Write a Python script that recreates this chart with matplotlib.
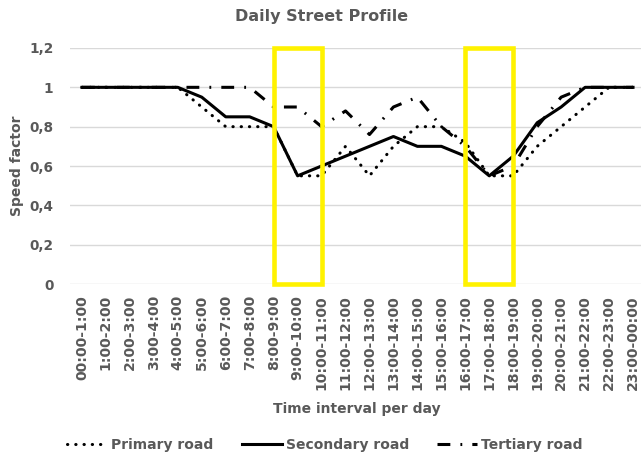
import matplotlib
matplotlib.use("Agg")
from matplotlib import pyplot as plt
from matplotlib.patches import Rectangle

intervals = ["00:00-1:00", "1:00-2:00", "2:00-3:00", "3:00-4:00", "4:00-5:00", "5:00-6:00",
             "6:00-7:00", "7:00-8:00", "8:00-9:00", "9:00-10:00", "10:00-11:00", "11:00-12:00",
             "12:00-13:00", "13:00-14:00", "14:00-15:00", "15:00-16:00", "16:00-17:00",
             "17:00-18:00", "18:00-19:00", "19:00-20:00", "20:00-21:00", "21:00-22:00",
             "22:00-23:00", "23:00-00:00"]

primary = [1, 1, 1, 1, 1, 0.9, 0.8, 0.8, 0.8, 0.55, 0.55, 0.7, 0.55, 0.7, 0.8, 0.8,
           0.72, 0.55, 0.55, 0.7, 0.8, 0.9, 1, 1]
secondary = [1, 1, 1, 1, 1, 0.95, 0.85, 0.85, 0.8, 0.55, 0.6, 0.65, 0.7, 0.75, 0.7, 0.7,
             0.65, 0.55, 0.65, 0.82, 0.9, 1, 1, 1]
tertiary = [1, 1, 1, 1, 1, 1, 1, 1, 0.9, 0.9, 0.8, 0.88, 0.76, 0.9, 0.95, 0.8,
            0.7, 0.55, 0.6, 0.8, 0.95, 1, 1, 1]

# peak hours marked with yellow boxes (first and last interval index)
peaks = [(8, 10), (16, 18)]

y_ticks = [0, 0.2, 0.4, 0.6, 0.8, 1, 1.2]
y_labels = ["0", "0,2", "0,4", "0,6", "0,8", "1", "1,2"]

grey = "#595959"
plt.rcParams["font.family"] = "DejaVu Sans"
plt.rcParams["font.weight"] = "bold"

fig = plt.figure(figsize=(6.41, 4.54), dpi=100)
ax = fig.add_axes([70 / 641, 1 - 284 / 454, 575 / 641, 236 / 454])

x = list(range(len(intervals)))
ax.plot(x, primary, color="black", lw=2.2, linestyle=(0, (0.1, 2.6)),
        dash_capstyle="round", label="Primary road")
ax.plot(x, secondary, color="black", lw=2.2, label="Secondary road")
ax.plot(x, tertiary, color="black", lw=2.2, linestyle=(0, (4.2, 3.3, 0.6, 3.3)),
        label="Tertiary road")

for a, b in peaks:
    ax.add_patch(Rectangle((a, 0), b - a, 1.2, fill=False, edgecolor="#fff200",
                           lw=3.3, zorder=5, clip_on=False))

ax.set_xlim(-0.5, len(intervals) - 0.5)
ax.set_ylim(0, 1.2)
ax.set_yticks(y_ticks)
ax.set_yticklabels(y_labels)
ax.set_xticks(x)
ax.set_xticklabels(intervals, rotation=90, va="top")
ax.tick_params(axis="both", length=0, colors=grey)
ax.tick_params(axis="y", pad=12, labelsize=9.8)
ax.tick_params(axis="x", pad=8, labelsize=10.1)
ax.grid(axis="y", color="#d9d9d9", lw=1)
ax.set_axisbelow(True)
for s in ax.spines.values():
    s.set_visible(False)

fig.text(322 / 641, 1 - 17 / 454, "Daily Street Profile", ha="center", va="center",
         fontsize=11.5, color=grey, fontweight="bold")
fig.text(17 / 641, 1 - 166 / 454, "Speed factor", rotation=90, ha="center", va="center",
         fontsize=10, color=grey, fontweight="bold")
fig.text(357 / 641, 1 - 409 / 454, "Time interval per day", ha="center", va="center",
         fontsize=10, color=grey, fontweight="bold")

leg = fig.legend(loc="center", bbox_to_anchor=(325 / 641, 1 - 445 / 454), ncol=3,
                 frameon=False, handlelength=2.9, handletextpad=0.3, columnspacing=2.0,
                 prop={"size": 10, "weight": "bold"})
for t in leg.get_texts():
    t.set_color(grey)

fig.savefig("out.png", dpi=100)
